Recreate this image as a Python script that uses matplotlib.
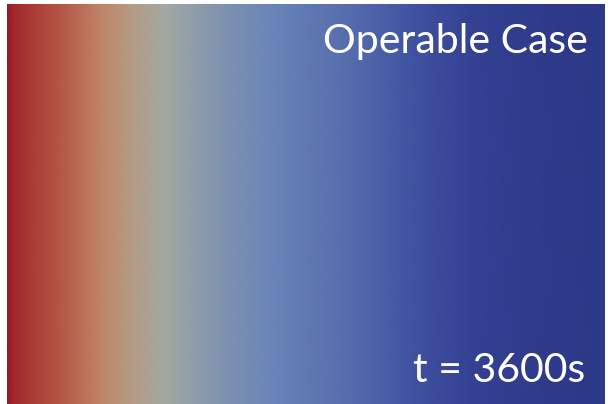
import matplotlib
matplotlib.use("Agg")
import matplotlib.pyplot as plt
import numpy as np
from matplotlib.colors import LinearSegmentedColormap

# Normalised temperature profile across the domain (left wall hot, right cold)
x_station = [0.0, 0.013, 0.055, 0.105, 0.155, 0.206, 0.264, 0.32, 0.38,
             0.44, 0.49, 0.55, 0.61, 0.66, 0.71, 0.78, 0.86, 1.0]
temperature = [1.0, 0.96, 0.905, 0.845, 0.775, 0.69, 0.60, 0.54, 0.49,
               0.45, 0.41, 0.37, 0.32, 0.26, 0.20, 0.13, 0.06, 0.0]

case_label = "Operable Case"
time_label = "t = 3600s"

# Diverging cool-to-warm map with a grey midpoint
cmap_levels = [0.0, 0.15, 0.30, 0.45, 0.60, 0.75, 0.88, 1.0]
cmap_colors = ["#2d3887", "#354395", "#4a5fa8", "#6a86b8",
               "#a3a8a2", "#c2906f", "#b35040", "#9a1525"]
cmap = LinearSegmentedColormap.from_list("coolwarm_grey",
                                         list(zip(cmap_levels, cmap_colors)))

W, H = 608, 404
fig = plt.figure(figsize=(W / 100, H / 100), dpi=100)
fig.patch.set_facecolor("white")
ax = fig.add_axes([7 / W, 0, 598 / W, 400 / H])

xs = np.array(x_station)
ys = np.array([0.0, 1.0])
field = np.vstack([temperature, temperature])
ax.pcolormesh(xs, ys, field, cmap=cmap, vmin=0, vmax=1, shading="gouraud")
ax.set_xlim(0, 1)
ax.set_ylim(0, 1)
ax.set_axis_off()

font = ["Lato", "DejaVu Sans"]
fig.text(588 / W, 1 - 53 / H, case_label, color="white", fontsize=29.5,
         ha="right", va="baseline", family=font)
fig.text(585 / W, 1 - 382 / H, time_label, color="white", fontsize=29.5,
         ha="right", va="baseline", family=font)

fig.savefig("out.png", dpi=100)
